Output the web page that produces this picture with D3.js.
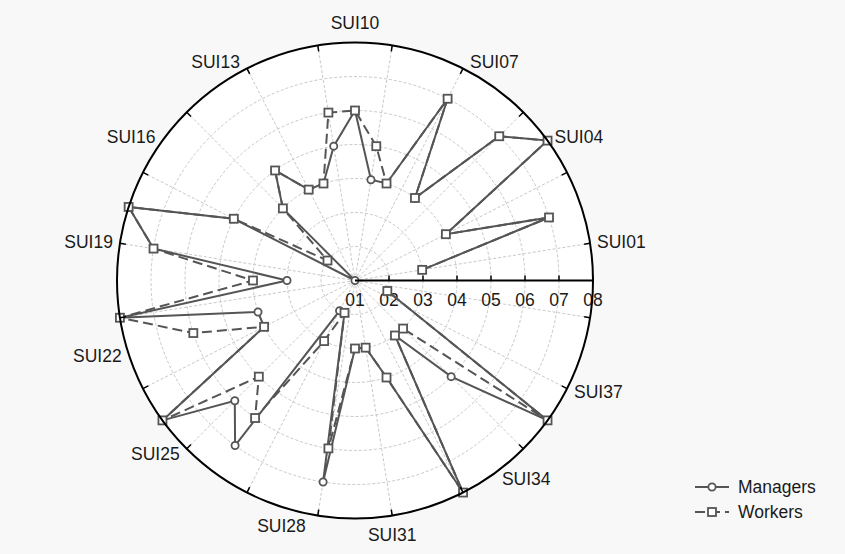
<!DOCTYPE html>
<html><head><meta charset="utf-8">
<script src="https://cdn.jsdelivr.net/npm/d3@7/dist/d3.min.js"></script>
<style>
html,body{margin:0;padding:0;background:#f8f8f8;}
svg{display:block;font-family:"Liberation Sans",Arial,sans-serif;}
</style>
</head><body>
<svg id="chart" width="845" height="554"></svg>
<script>
// ---- data ----
const categories = ["SUI01","SUI02","SUI03","SUI04","SUI05","SUI06","SUI07","SUI08","SUI09","SUI10",
  "SUI11","SUI12","SUI13","SUI14","SUI15","SUI16","SUI17","SUI18","SUI19","SUI20",
  "SUI21","SUI22","SUI23","SUI24","SUI25","SUI26","SUI27","SUI28","SUI29","SUI30",
  "SUI31","SUI32","SUI33","SUI34","SUI35","SUI36","SUI37","SUI38"];
const managers = [0.3,0.7,0.4,0.8,0.7,0.4,0.7,0.4,0.4,0.6,
  0.5,0.4,0.4,0.5,0.4,0.1,0.5,0.8,0.7,0.3,
  0.8,0.4,0.4,0.8,0.6,0.7,0.2,0.2,0.7,0.3,
  0.3,0.4,0.8,0.3,0.5,0.8,null,0.2];
const workers = [0.3,0.7,0.4,0.8,0.7,0.4,0.7,0.4,0.5,0.6,
  0.6,0.4,0.4,0.5,0.4,0.2,0.5,0.8,0.7,0.4,
  0.8,0.6,0.4,0.8,0.5,0.6,0.3,0.2,0.6,0.3,
  0.3,0.4,0.8,0.3,0.3,0.8,null,0.2];
const seriesNames = ["Managers","Workers"];
const radialTicks = [0.1,0.2,0.3,0.4,0.5,0.6,0.7,0.8];
const radialTickLabels = ["01","02","03","04","05","06","07","08"];
const angleSlots = 40;

// ---- layout ----
const svg = d3.select("#chart");
const cx = 355, cy = 280.5, R = 238;
const lineColor = "#555555";
const rScale = d3.scaleLinear().domain([0.1, 0.8]).range([0, R]);
const aScale = d3.scaleLinear().domain([0, angleSlots]).range([0, 2*Math.PI]);
const px = (a, r) => cx + r*Math.cos(a);
const py = (a, r) => cy - r*Math.sin(a);

const g = svg.append("g");
// white polar area
g.append("circle").attr("cx",cx).attr("cy",cy).attr("r",R).attr("fill","#ffffff");

// grid circles
g.selectAll("circle.grid").data(radialTicks.slice(1,-1)).enter().append("circle")
  .attr("class","grid").attr("cx",cx).attr("cy",cy).attr("r",d=>rScale(d))
  .attr("fill","none").attr("stroke","#c8c8c8").attr("stroke-width",1).attr("stroke-dasharray","3,2");
// grid spokes (every other slot, offset by one)
const spokeSlots = d3.range(1, angleSlots, 2);
g.selectAll("line.spoke").data(spokeSlots).enter().append("line")
  .attr("x1",cx).attr("y1",cy)
  .attr("x2",d=>px(aScale(d),R)).attr("y2",d=>py(aScale(d),R))
  .attr("stroke","#c8c8c8").attr("stroke-width",1).attr("stroke-dasharray","3,2");

// radial axis labels
g.selectAll("text.rlab").data(radialTicks).enter().append("text")
  .attr("x",d=>cx+rScale(d)).attr("y",300).attr("dy","0.35em")
  .attr("text-anchor","middle").attr("font-size",17.5).attr("fill","#1a1a1a")
  .text((d,i)=>radialTickLabels[i]);

// category labels
const labelCats = categories.map((c,i)=>({c,i})).filter(d=>d.i%3===0);
g.selectAll("text.clab").data(labelCats).enter().append("text")
  .each(function(d){
    const a = aScale(d.i+1), c = Math.cos(a), s = Math.sin(a);
    const x0 = px(a,R), y0 = py(a,R);
    const t = d3.select(this);
    if (Math.abs(c) < 0.4) {
      t.attr("x", x0).attr("y", y0 - s*20).attr("text-anchor","middle");
    } else {
      t.attr("x", x0 + (c>0?7:-7)).attr("y", y0 - s*7).attr("text-anchor", c>0?"start":"end");
    }
  })
  .attr("dy","0.35em").attr("font-size",17.5).attr("fill","#1a1a1a").text(d=>d.c);

// data lines
function pts(vals){
  return vals.map((v,i)=>({v,i})).filter(d=>d.v!==null)
    .map(d=>({x:px(aScale(d.i+1), rScale(d.v)), y:py(aScale(d.i+1), rScale(d.v))}));
}
const line = d3.line().x(d=>d.x).y(d=>d.y);
const mPts = pts(managers), wPts = pts(workers);
g.append("path").attr("d",line(mPts)).attr("fill","none").attr("stroke",lineColor).attr("stroke-width",2);
g.append("path").attr("d",line(wPts)).attr("fill","none").attr("stroke",lineColor).attr("stroke-width",2).attr("stroke-dasharray","10,5");

// markers
g.selectAll("circle.m").data(mPts).enter().append("circle")
  .attr("cx",d=>d.x).attr("cy",d=>d.y).attr("r",3.6)
  .attr("fill","#fff").attr("stroke",lineColor).attr("stroke-width",1.8);
g.selectAll("rect.w").data(wPts).enter().append("rect")
  .attr("x",d=>d.x-4).attr("y",d=>d.y-4).attr("width",8).attr("height",8)
  .attr("fill","#fff").attr("stroke",lineColor).attr("stroke-width",1.8);

// outer circle, ticks, radial axis
g.append("circle").attr("cx",cx).attr("cy",cy).attr("r",R).attr("fill","none").attr("stroke","#000").attr("stroke-width",2);
g.selectAll("line.otick").data(spokeSlots).enter().append("line")
  .attr("x1",d=>px(aScale(d),R)).attr("y1",d=>py(aScale(d),R))
  .attr("x2",d=>px(aScale(d),R-6)).attr("y2",d=>py(aScale(d),R-6))
  .attr("stroke","#000").attr("stroke-width",1.5);
g.append("line").attr("x1",cx).attr("y1",cy).attr("x2",cx+R).attr("y2",cy).attr("stroke","#000").attr("stroke-width",2);
g.selectAll("line.rtick").data(radialTicks.slice(1)).enter().append("line")
  .attr("x1",d=>cx+rScale(d)).attr("x2",d=>cx+rScale(d)).attr("y1",cy).attr("y2",cy-5)
  .attr("stroke","#000").attr("stroke-width",1.5);

// legend
const leg = svg.append("g");
seriesNames.forEach((name,i)=>{
  const y = 487 + i*25;
  leg.append("line").attr("x1",695).attr("x2",729).attr("y1",y).attr("y2",y)
    .attr("stroke",lineColor).attr("stroke-width",2).attr("stroke-dasharray", i===1?"10,5":null);
  if(i===0){
    leg.append("circle").attr("cx",712).attr("cy",y).attr("r",3.6).attr("fill","#fff").attr("stroke",lineColor).attr("stroke-width",1.8);
  } else {
    leg.append("rect").attr("x",708).attr("y",y-4).attr("width",8).attr("height",8).attr("fill","#fff").attr("stroke",lineColor).attr("stroke-width",1.8);
  }
  leg.append("text").attr("x",738).attr("y",y).attr("dy","0.35em").attr("font-size",17.5).attr("fill","#1a1a1a").text(name);
});
</script>
</body></html>
